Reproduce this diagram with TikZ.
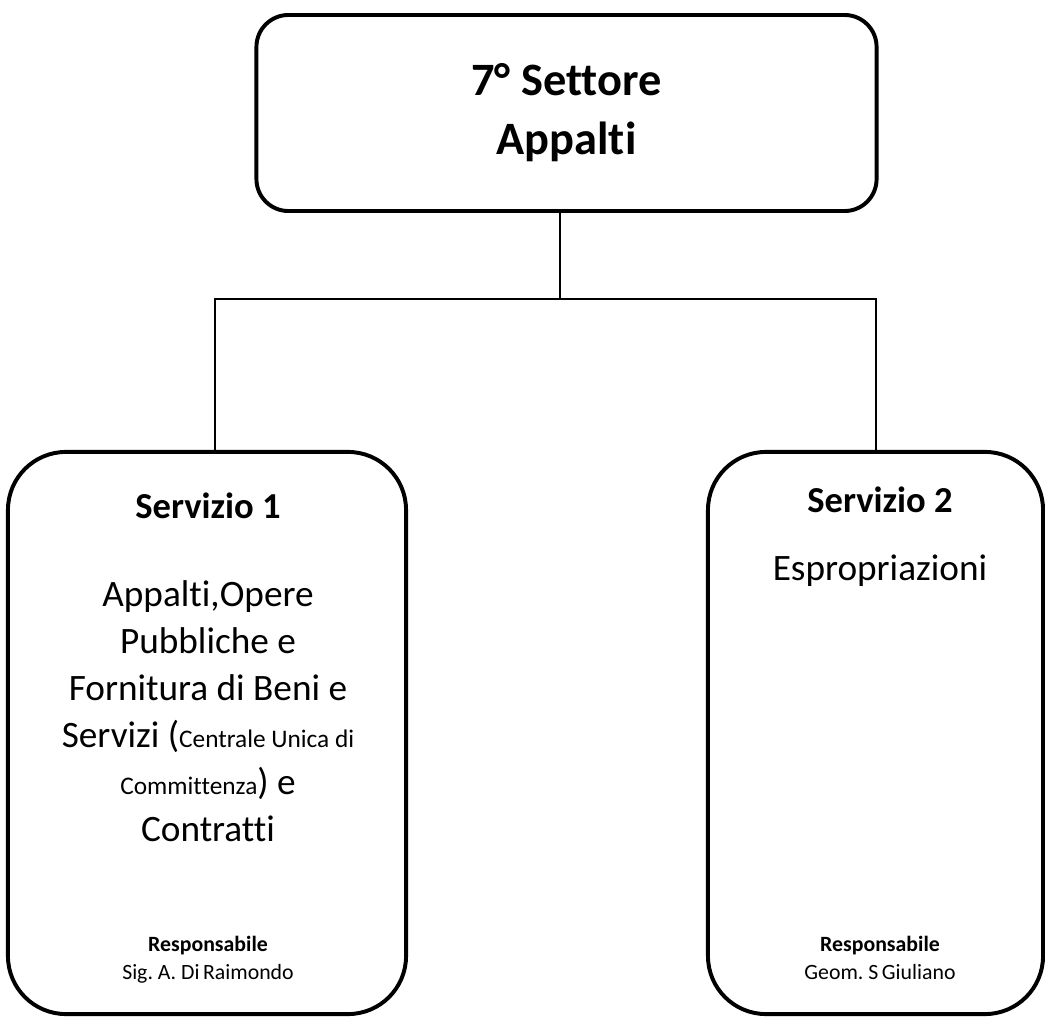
\documentclass[tikz,border=0pt]{standalone}
\usepackage{fontspec}
\setmainfont[Ligatures=NoCommon]{Carlito}
\usepackage{tikz}
\usetikzlibrary{positioning}
\frenchspacing
\tikzstyle{settorebox} = [draw, line width=2.8pt, rounded corners=0.8cm, minimum width=15.5cm, minimum height=4.9cm, align=center, font=\fontsize{33}{42}\selectfont\bfseries]
\tikzstyle{servbox} = [draw, line width=2.8pt, rounded corners=1.45cm, minimum height=14.05cm]
\tikzstyle{head} = [anchor=base, font=\fontsize{26}{32}\selectfont\bfseries]
\tikzstyle{body} = [anchor=north, inner sep=0pt, align=center, font=\fontsize{26.5}{33.5}\selectfont]
\tikzstyle{resp} = [anchor=north, inner sep=0pt, align=center, font=\fontsize{15.5}{19.8}\selectfont]
\tikzstyle{link} = [line width=1.3pt]
\newcommand{\piccolo}[1]{{\fontsize{18}{20}\selectfont #1}}

\begin{document}
\begin{tikzpicture}[x=0.025cm, y=-0.025cm]
    \useasboundingbox (0,0) rectangle (1045,1018);
    % the blocks
    \node [settorebox] (settore) at (566.5,113) {7° Settore\\Appalti};
    \node [servbox, minimum width=9.95cm] (serv1) at (207,733) {};
    \node [servbox, minimum width=8.375cm] (serv2) at (875.5,733) {};
    % connectors
    \coordinate (snodo) at (560,299);
    \coordinate (ramo1) at (215,299);
    \coordinate (ramo2) at (876,299);
    \draw [link] (settore.south -| snodo) -- (snodo);
    \draw [link] (serv1.north -| ramo1) -- (ramo1) -- (ramo2) -- (serv2.north -| ramo2);
    % texts of the first service
    \node [head] (tit1) at (208,518) {Servizio 1};
    \node [body] (desc1) at (208,573) {\strut Appalti,Opere\\Pubbliche e\\Fornitura di Beni e\\Servizi (\piccolo{Centrale Unica di}\\\piccolo{Committenza}) e\\Contratti};
    \node [resp] (resp1) at (208,931.4) {\strut\textbf{Responsabile}\\Sig. A. Di\,Raimondo};
    % texts of the second service
    \node [head] (tit2) at (880,512) {Servizio 2};
    \node [head, font=\fontsize{26.5}{32}\selectfont] (desc2) at (880,580) {Espropriazioni};
    \node [resp] (resp2) at (880,931.4) {\strut\textbf{Responsabile}\\Geom. S\,Giuliano};
\end{tikzpicture}
\end{document}
